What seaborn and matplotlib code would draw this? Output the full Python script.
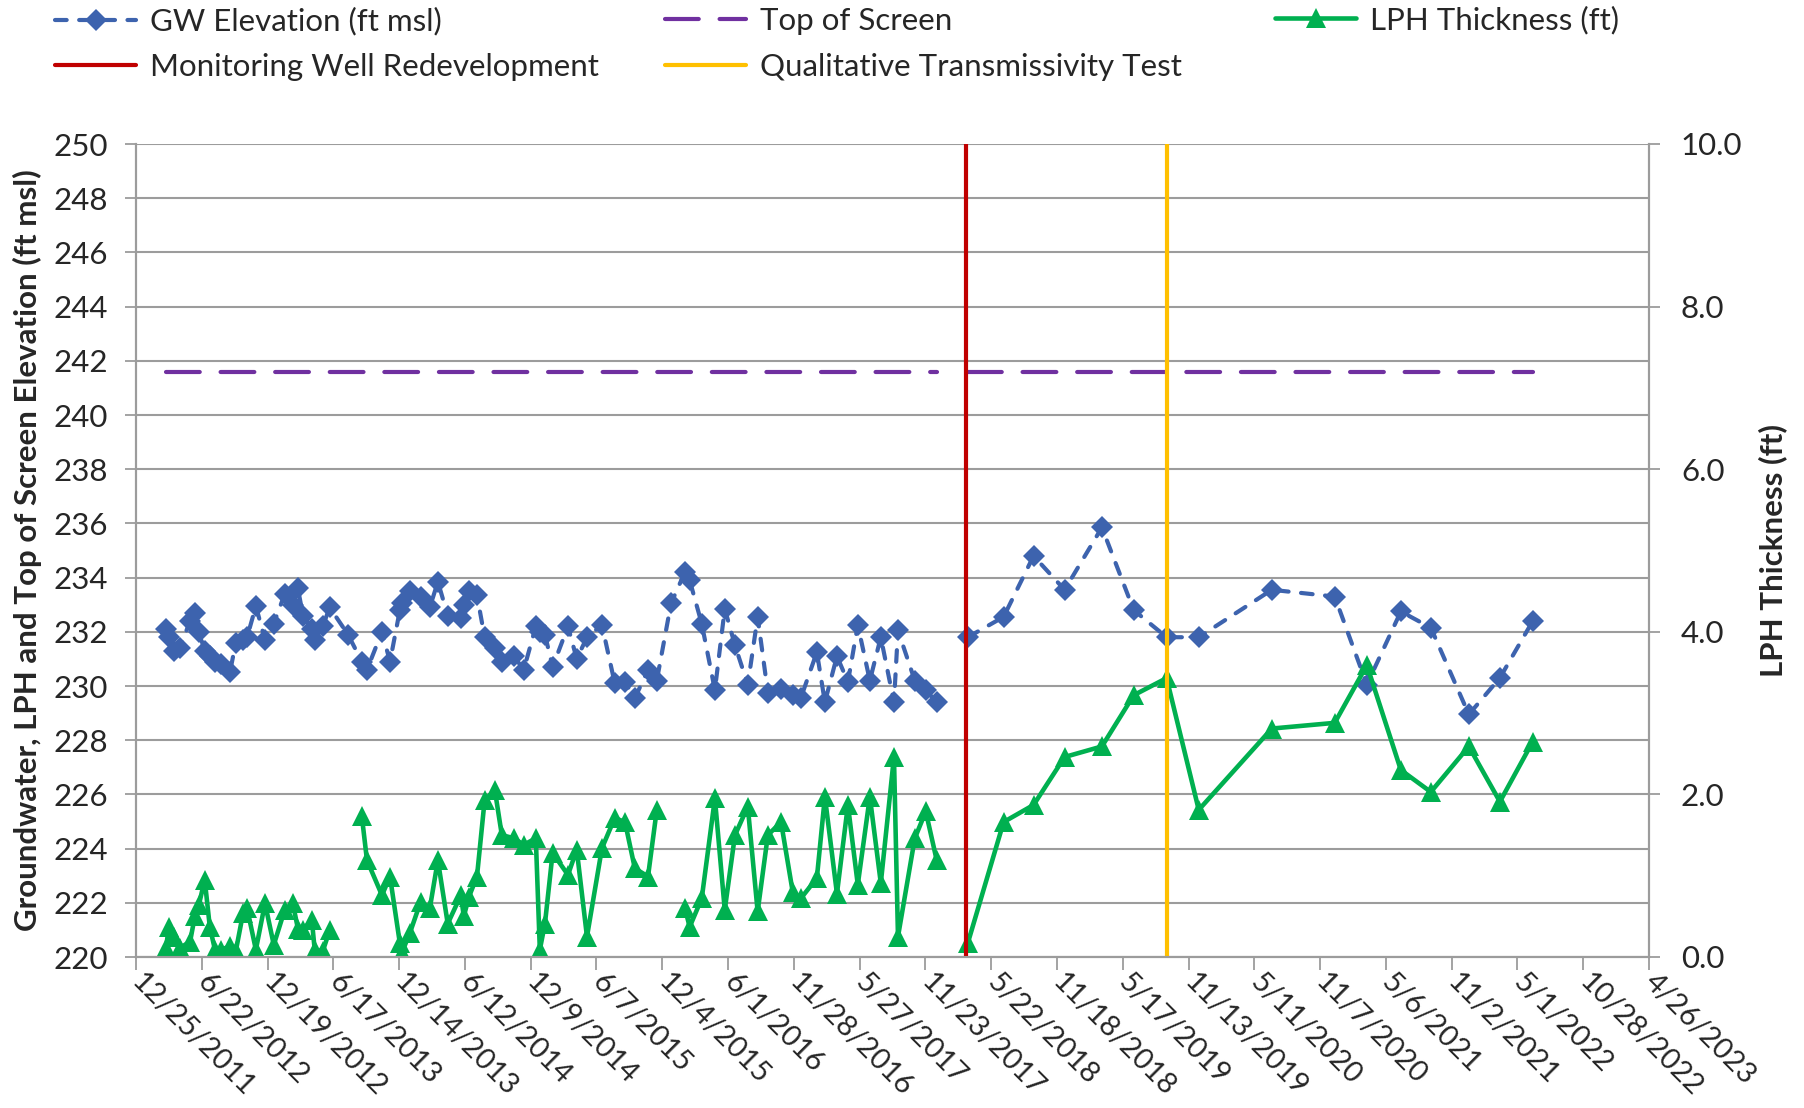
import matplotlib
matplotlib.use("Agg")
import matplotlib.pyplot as plt
from matplotlib.lines import Line2D
import numpy as np
import pandas as pd
import seaborn as sns

# sampling events (dates)
sample_dates = [
    "2012-03-16", "2012-03-24", "2012-04-07", "2012-04-23", "2012-05-21", "2012-06-03", "2012-06-14", "2012-06-30", "2012-07-14", "2012-07-28",
    "2012-08-13", "2012-09-07", "2012-09-23", "2012-10-13", "2012-10-24", "2012-11-17", "2012-12-12", "2013-01-05", "2013-02-04", "2013-02-26",
    "2013-03-12", "2013-03-26", "2013-04-19", "2013-04-27", "2013-05-19", "2013-06-07", "2013-07-27", "2013-09-03", "2013-09-17", "2013-10-28",
    "2013-11-19", "2013-12-16", "2013-12-21", "2014-01-12", "2014-02-11", "2014-03-08", "2014-03-30", "2014-04-26", "2014-06-01", "2014-06-09",
    "2014-06-23", "2014-07-15", "2014-08-05", "2014-09-02", "2014-09-21", "2014-10-24", "2014-11-20", "2014-12-23", "2015-01-03", "2015-01-17",
    "2015-02-07", "2015-03-21", "2015-04-14", "2015-05-12", "2015-06-22", "2015-07-27", "2015-08-24", "2015-09-20", "2015-10-26", "2015-11-19",
    "2015-12-28", "2016-02-04", "2016-02-17", "2016-03-21", "2016-04-26", "2016-05-23", "2016-06-20", "2016-07-25", "2016-08-21", "2016-09-18",
    "2016-10-24", "2016-11-25", "2016-12-17", "2017-01-30", "2017-02-21", "2017-03-26", "2017-04-25", "2017-05-22", "2017-06-24", "2017-07-24",
    "2017-08-29", "2017-09-09", "2017-10-25", "2017-11-24", "2017-12-24", "2018-03-19", "2018-06-25", "2018-09-15", "2018-12-09", "2019-03-21",
    "2019-06-16", "2019-09-14", "2019-12-11", "2020-06-28", "2020-12-17", "2021-03-15", "2021-06-16", "2021-09-06", "2021-12-19", "2022-03-14",
    "2022-06-12",
]

# groundwater elevation, ft msl
gw_elev = [
    232.1, 231.8, 231.3, 231.4, 232.4, 232.7, 232.0, 231.3, 231.1, 230.9,
    230.8, 230.5, 231.6, 231.7, 231.8, 232.95, 231.7, 232.3, 233.4, 233.0,
    233.6, 232.6, 232.1, 231.7, 232.2, 232.9, 231.9, 230.9, 230.6, 232.0,
    230.9, 232.8, 233.05, 233.5, 233.3, 232.9, 233.85, 232.6, 232.5, 233.0,
    233.5, 233.35, 231.8, 231.4, 230.9, 231.1, 230.6, 232.2, 232.0, 231.9,
    230.7, 232.2, 231.0, 231.8, 232.25, 230.1, 230.15, 229.55, 230.6, 230.2,
    233.05, 234.2, 233.9, 232.3, 229.85, 232.85, 231.5, 230.05, 232.55, 229.75,
    229.9, 229.65, 229.55, 231.25, 229.4, 231.1, 230.15, 232.25, 230.2, 231.8,
    229.4, 232.05, 230.2, 229.85, 229.4, 231.8, 232.55, 234.8, 233.55, 235.85,
    232.8, 231.8, 231.8, 233.55, 233.3, 230.05, 232.75, 232.15, 228.95, 230.3,
    232.4,
]

# LPH thickness, ft (nan = not recorded)
nan = np.nan
lph_thick = [
    0.11, 0.37, 0.25, 0.11, 0.19, 0.50, 0.64, 0.95, 0.37, 0.09,
    0.09, 0.13, 0.07, 0.54, 0.60, 0.09, 0.66, 0.15, 0.58, 0.66,
    0.35, 0.33, 0.46, 0.09, 0.07, 0.33, nan, 1.73, 1.19, 0.76,
    0.99, 0.17, 0.05, 0.29, 0.68, 0.60, 1.19, 0.41, 0.76, 0.50,
    0.74, 0.99, 1.93, 2.05, 1.50, 1.46, 1.38, 1.46, 0.09, 0.41,
    1.28, 1.01, 1.32, 0.25, 1.34, 1.71, 1.66, 1.09, 0.99, 1.81,
    nan, 0.60, 0.37, 0.72, 1.95, 0.58, 1.50, 1.85, 0.56, 1.50,
    1.66, 0.80, 0.72, 0.97, 1.97, 0.78, 1.87, 0.89, 1.97, 0.91,
    2.46, 0.25, 1.46, 1.79, 1.19, 0.17, 1.66, 1.87, 2.46, 2.59,
    3.22, 3.43, 1.81, 2.81, 2.88, 3.59, 2.30, 2.03, 2.59, 1.91,
    2.65,
]

top_of_screen = 241.6
redevelopment_date = "2018-03-15"
transmissivity_date = "2019-09-16"
x_start, x_end = "2011-12-25", "2023-04-26"

C_GW = "#3D63AE"
C_TOS = "#7030A0"
C_LPH = "#00B050"
C_RED = "#C00000"
C_YEL = "#FFC000"
GRID = "#9C9C9C"

sns.set_theme(style="white")
plt.rcParams["font.family"] = ["Lato", "DejaVu Sans"]
FS = 22.5
FS_X = 21

df = pd.DataFrame({"date": pd.to_datetime(sample_dates), "gw": gw_elev, "lph": lph_thick})
df["period"] = (df["date"] > pd.Timestamp(redevelopment_date)).astype(int)
df["tos"] = top_of_screen
brk = df["lph"].isna() | df["period"].diff().fillna(0).ne(0)
df["lph_seg"] = brk.cumsum()
lph_df = df.dropna(subset=["lph"])

fig = plt.figure(figsize=(18.04, 11.08), dpi=100)
ax = fig.add_axes([136 / 1804, 1 - 957 / 1108, 1513 / 1804, 813 / 1108])
ax2 = ax.twinx()

TOS_LS = (0, (8.1, 5.0))
GW_LS = (0, (2.8, 3.0))

# primary axis: top of screen + groundwater
sns.lineplot(data=df, x="date", y="tos", units="period", estimator=None, ax=ax,
             color=C_TOS, lw=3.0, linestyle=TOS_LS, dash_capstyle="round", legend=False)
sns.lineplot(data=df, x="date", y="gw", units="period", estimator=None, ax=ax,
             color=C_GW, lw=3.0, linestyle=GW_LS, dash_capstyle="round",
             marker="D", markersize=11, markeredgewidth=0, legend=False)

# secondary axis: LPH thickness + event lines
sns.lineplot(data=lph_df, x="date", y="lph", units="lph_seg", estimator=None, ax=ax2,
             color=C_LPH, lw=3.3, marker="^", markersize=14, markeredgewidth=0, legend=False)
ax2.axvline(pd.Timestamp(redevelopment_date), color=C_RED, lw=3.0)
ax2.axvline(pd.Timestamp(transmissivity_date), color=C_YEL, lw=3.0)

ticks = pd.date_range(x_start, x_end, freq="180D")
ax.set_xlim(ticks[0], ticks[-1])
ax.set_xticks(ticks)
ax.set_xticklabels([f"{d.month}/{d.day}/{d.year}" for d in ticks], rotation=-45,
                   ha="left", va="center", rotation_mode="anchor", fontsize=FS_X)
ax.set_ylim(220, 250)
ax.set_yticks(np.arange(220, 251, 2))
ax.tick_params(axis="y", labelsize=FS, length=8, width=1.3, color=GRID, pad=12, direction="out", left=True)
ax.tick_params(axis="x", length=9, width=1.3, color=GRID, pad=6, direction="out", bottom=True)
ax.grid(axis="y", color=GRID, lw=1.5)
ax.set_xlabel("")
ax.set_ylabel("Groundwater, LPH and Top of Screen Elevation (ft msl)", fontsize=FS, fontweight="bold")
ax.yaxis.set_label_coords(-0.062, 0.5)

ax2.set_ylim(0, 10)
ax2.set_yticks(np.arange(0, 10.1, 2))
ax2.set_yticklabels([f"{v:.1f}" for v in np.arange(0, 10.1, 2)])
ax2.tick_params(axis="y", labelsize=FS, length=8, width=1.3, color=GRID, pad=15, direction="out", right=True)
ax2.set_ylabel("LPH Thickness (ft)", fontsize=FS, fontweight="bold")
ax2.yaxis.set_label_coords(1.072, 0.5)

for a in (ax, ax2):
    a.spines["top"].set_visible(False)
    for s in ("left", "bottom", "right"):
        a.spines[s].set_color(GRID)
        a.spines[s].set_linewidth(1.5)

# legend, three columns placed like the original
h_gw = Line2D([], [], color=C_GW, lw=3.0, linestyle=GW_LS, dash_capstyle="round",
              marker="D", markersize=11, markeredgewidth=0)
h_red = Line2D([], [], color=C_RED, lw=3.0)
h_tos = Line2D([], [], color=C_TOS, lw=3.0, linestyle=TOS_LS, dash_capstyle="round")
h_yel = Line2D([], [], color=C_YEL, lw=3.0)
h_lph = Line2D([], [], color=C_LPH, lw=3.3, marker="^", markersize=14, markeredgewidth=0)

leg_kw = dict(frameon=False, fontsize=FS, handlelength=2.6, handletextpad=0.45,
              borderpad=0, borderaxespad=0, labelspacing=0.55, loc="center left")
fig.legend([h_gw, h_red], ["GW Elevation (ft msl)", "Monitoring Well Redevelopment"],
           bbox_to_anchor=(55 / 1804, 1 - 44 / 1108), **leg_kw)
fig.legend([h_tos, h_yel], ["Top of Screen", "Qualitative Transmissivity Test"],
           bbox_to_anchor=(665 / 1804, 1 - 44 / 1108), **leg_kw)
fig.legend([h_lph], ["LPH Thickness (ft)"],
           bbox_to_anchor=(1275 / 1804, 1 - 20 / 1108), **leg_kw)

fig.savefig("out.png", dpi=100)
